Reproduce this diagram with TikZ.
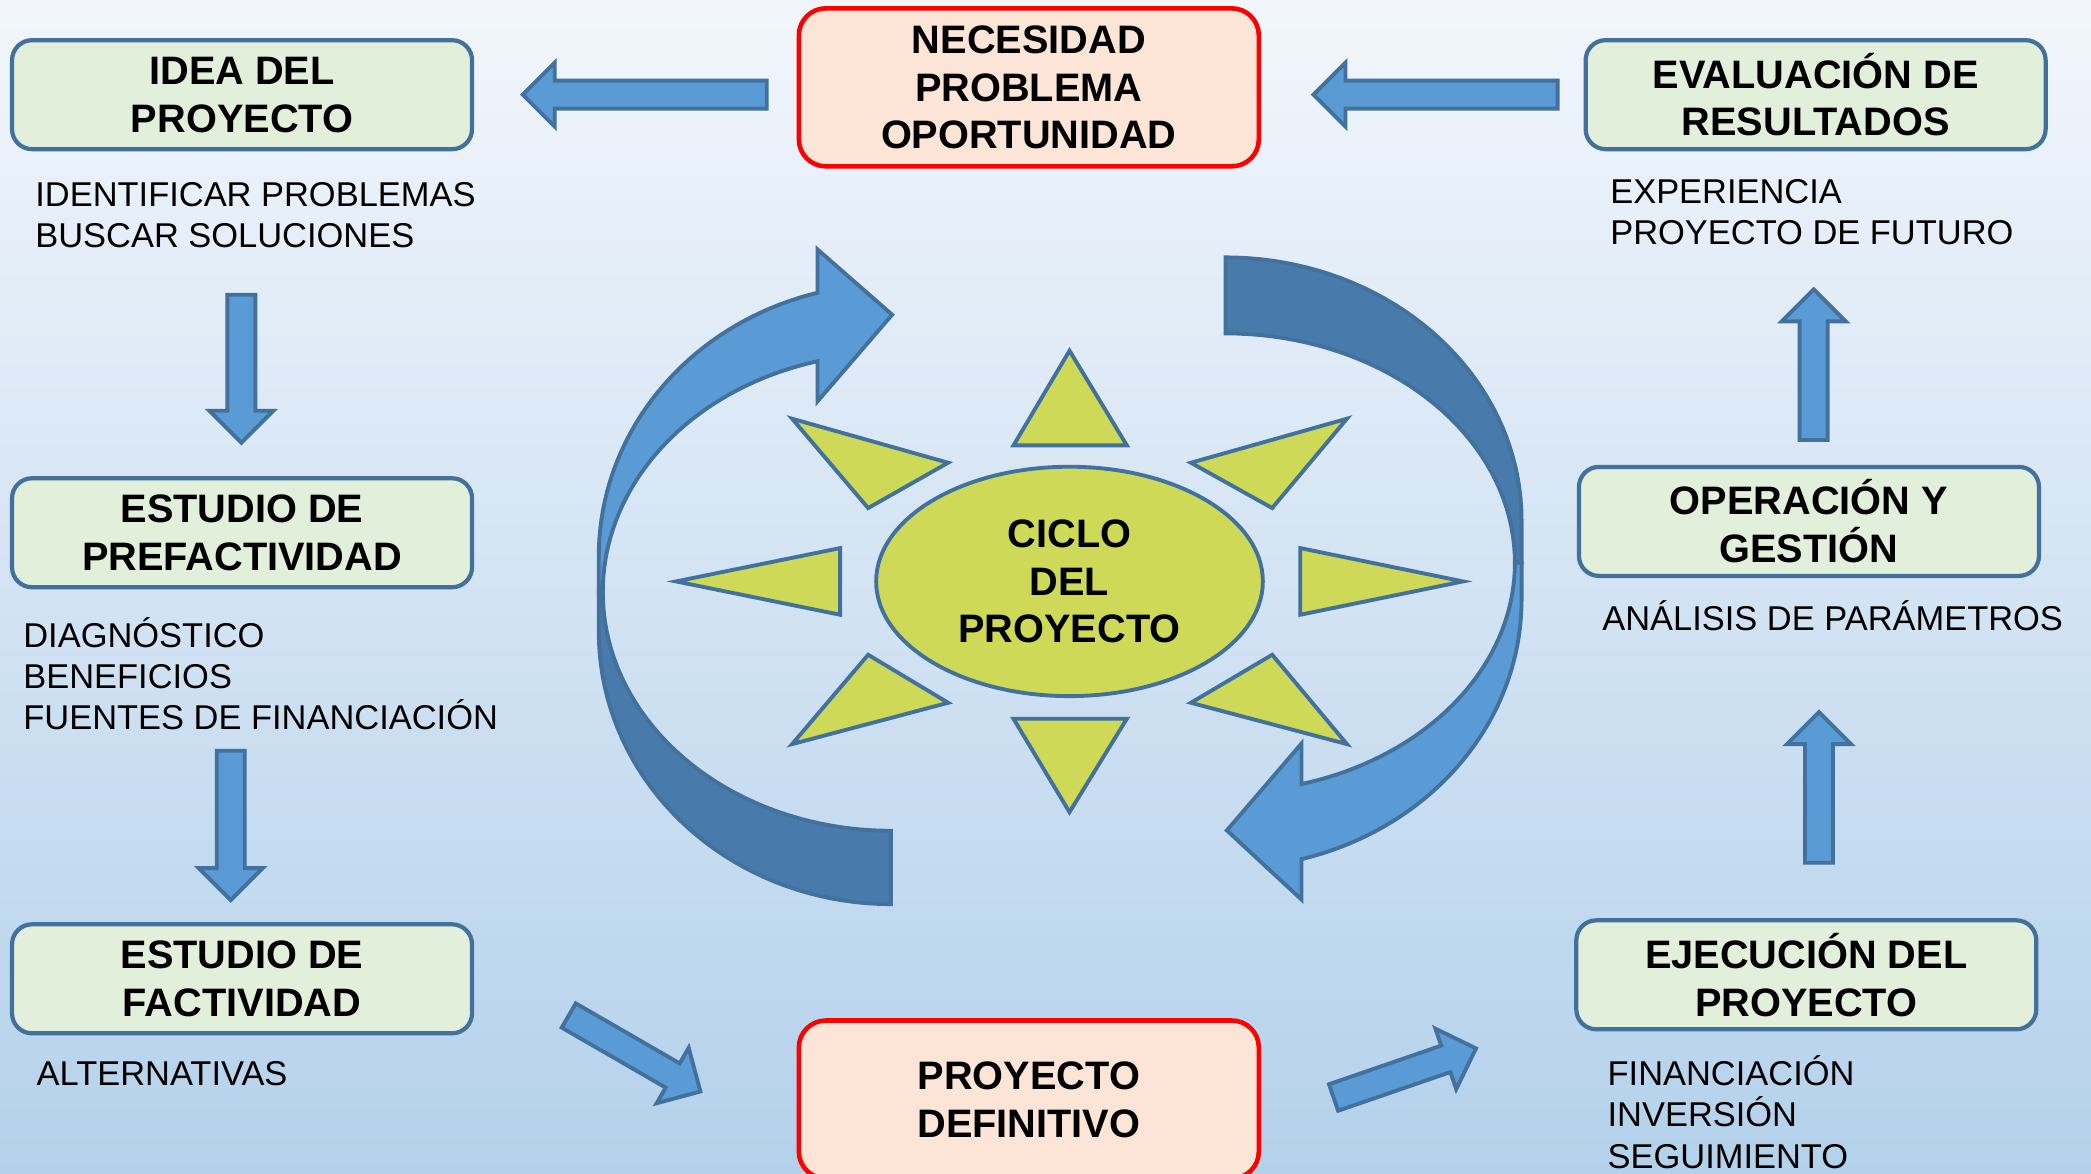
\documentclass[tikz,border=0pt]{standalone}
\usepackage{fontspec}
\setmainfont{Liberation Sans}
\usetikzlibrary{shapes.geometric}

\definecolor{arrowblue}{RGB}{91,155,213}
\definecolor{darkblue}{RGB}{72,123,171}
\definecolor{edgeblue}{RGB}{65,113,156}
\definecolor{boxgreen}{RGB}{226,239,218}
\definecolor{boxpeach}{RGB}{252,228,214}
\definecolor{raygreen}{RGB}{205,217,87}
\definecolor{bgtop}{RGB}{242,246,252}
\definecolor{bgbottom}{RGB}{180,209,235}

\tikzset{
    titlefont/.style={font=\bfseries\fontsize{11.3}{13.6}\selectfont},
    greenbox/.style={titlefont, draw=edgeblue, fill=boxgreen, line width=1.2pt,
        rounded corners=0.2cm, minimum width=4.6cm, minimum height=1.09cm, align=center, inner sep=0},
    redbox/.style={titlefont, draw=red, fill=boxpeach, line width=1.3pt,
        rounded corners=0.27cm, minimum width=4.6cm, minimum height=1.58cm, align=center, inner sep=0},
    note/.style={font=\fontsize{9.8}{11.7}\selectfont, anchor=west, align=left, inner sep=0},
    arrowbody/.style={draw=edgeblue, fill=arrowblue, line width=1.1pt, line join=miter},
    curvelight/.style={draw=edgeblue, fill=arrowblue, line width=1.1pt, line join=miter},
    curvedark/.style={draw=edgeblue, fill=darkblue, line width=1.1pt, line join=miter},
    ray/.style={draw=edgeblue, fill=raygreen, line width=1.1pt, line join=miter},
    sun/.style={titlefont, ellipse, draw=edgeblue, fill=raygreen, line width=1.1pt,
        minimum width=3.867cm, minimum height=2.294cm, inner sep=0, align=center}
}

% tail point, angle, length
\newcommand{\blockarrow}[3]{%
    \begin{scope}[shift={#1}, rotate=#2]
        \draw[arrowbody] (0,-10.5) -- ({#3-24},-10.5) -- ({#3-24},-24) -- (#3,0)
            -- ({#3-24},24) -- ({#3-24},10.5) -- (0,10.5) -- cycle;
    \end{scope}}

\begin{document}
\begin{tikzpicture}[x=0.013335cm, y=-0.013335cm]
    \useasboundingbox (0,0) rectangle (1568,880.3);
    \shade[top color=bgtop, bottom color=bgbottom] (0,0) rectangle (1568,880.3);

    % boxes
    \node[greenbox] (idea) at (181.5,71) {IDEA DEL\\PROYECTO};
    \node[redbox] (necesidad) at (771.5,65.5) {NECESIDAD\\PROBLEMA\\OPORTUNIDAD};
    \node[greenbox] (evaluacion) at (1361.5,71) {EVALUACIÓN DE\\RESULTADOS};
    \node[greenbox] (prefact) at (181.5,399.5) {ESTUDIO DE\\PREFACTIVIDAD};
    \node[greenbox] (operacion) at (1356.5,391) {OPERACIÓN Y\\GESTIÓN};
    \node[greenbox] (fact) at (181.5,734) {ESTUDIO DE\\FACTIVIDAD};
    \node[greenbox] (ejecucion) at (1354.5,731) {EJECUCIÓN DEL\\PROYECTO};
    \node[redbox] (definitivo) at (771.5,824.5) {PROYECTO\\DEFINITIVO};

    % notes under the boxes
    \node[note] (ideanote) at (26,161.5) {IDENTIFICAR PROBLEMAS\\BUSCAR SOLUCIONES};
    \node[note] (evalnote) at (1207,159) {EXPERIENCIA\\PROYECTO DE FUTURO};
    \node[note] (prefnote) at (17,505) {DIAGNÓSTICO\\BENEFICIOS\\FUENTES DE FINANCIACIÓN};
    \node[note] (opernote) at (1201,462) {ANÁLISIS DE PARÁMETROS};
    \node[note] (factnote) at (27,805) {ALTERNATIVAS};
    \node[note] (ejecnote) at (1205,834) {FINANCIACIÓN\\INVERSIÓN\\SEGUIMIENTO};

    % straight block arrows
    \foreach \tx/\ty/\ang/\len in {575/71/180/183, 1168/71/180/183, 181/221/-90/111,
        173/563/-90/112, 1360/330/90/113, 1364/647/90/113, 426.5/761.5/-30/114, 1000/823/19/113}
        \blockarrow{(\tx,\ty)}{\ang}{\len};

    % curved arrows
    \draw[curvedark, samples=40] (452,444)
        -- plot[domain=180:270] ({668+216*cos(\x)},{444-179*sin(\x)})
        -- (668,678)
        -- plot[domain=270:180] ({668+219*cos(\x)},{474-204*sin(\x)})
        -- (449,444) -- cycle;
    \draw[curvelight, samples=40] (449,417)
        -- plot[domain=180:104.55] ({668+219*cos(\x)},{417-204*sin(\x)})
        -- (613,187) -- (669,236) -- (613,301) -- (613,271)
        -- plot[domain=104.75:180] ({668+216*cos(\x)},{444-179*sin(\x)})
        -- (449,444) -- cycle;
    \draw[curvedark, samples=40] (919,193)
        -- plot[domain=90:0] ({919+222*cos(\x)},{390-197*sin(\x)})
        -- (1141,422)
        -- plot[domain=0:90] ({919+217*cos(\x)},{422-172*sin(\x)})
        -- cycle;
    \draw[curvelight, samples=40] (1136,422)
        -- plot[domain=0:-74.77] ({919+217*cos(\x)},{422-172*sin(\x)})
        -- (976,557.5) -- (920,622.7) -- (976,674.6)
        -- plot[domain=-75.12:0] ({919+222*cos(\x)},{450-201*sin(\x)})
        -- (1141,422) -- cycle;

    % sun
    \foreach \ax/\ay/\bx/\by/\cx/\cy in {802/263/760/334/845/334, 802/609/760/539/845/539,
        507/436/630/411/630/461, 1097/436/975/411/975/461, 594/314/711/347/651/381,
        1010/314/893/347/954/381, 594/558/651/491/711/527, 1010/558/954/491/893/527}
        \draw[ray] (\ax,\ay) -- (\bx,\by) -- (\cx,\cy) -- cycle;
    \node[sun] (ciclo) at (802,436) {CICLO\\DEL\\PROYECTO};
\end{tikzpicture}
\end{document}
